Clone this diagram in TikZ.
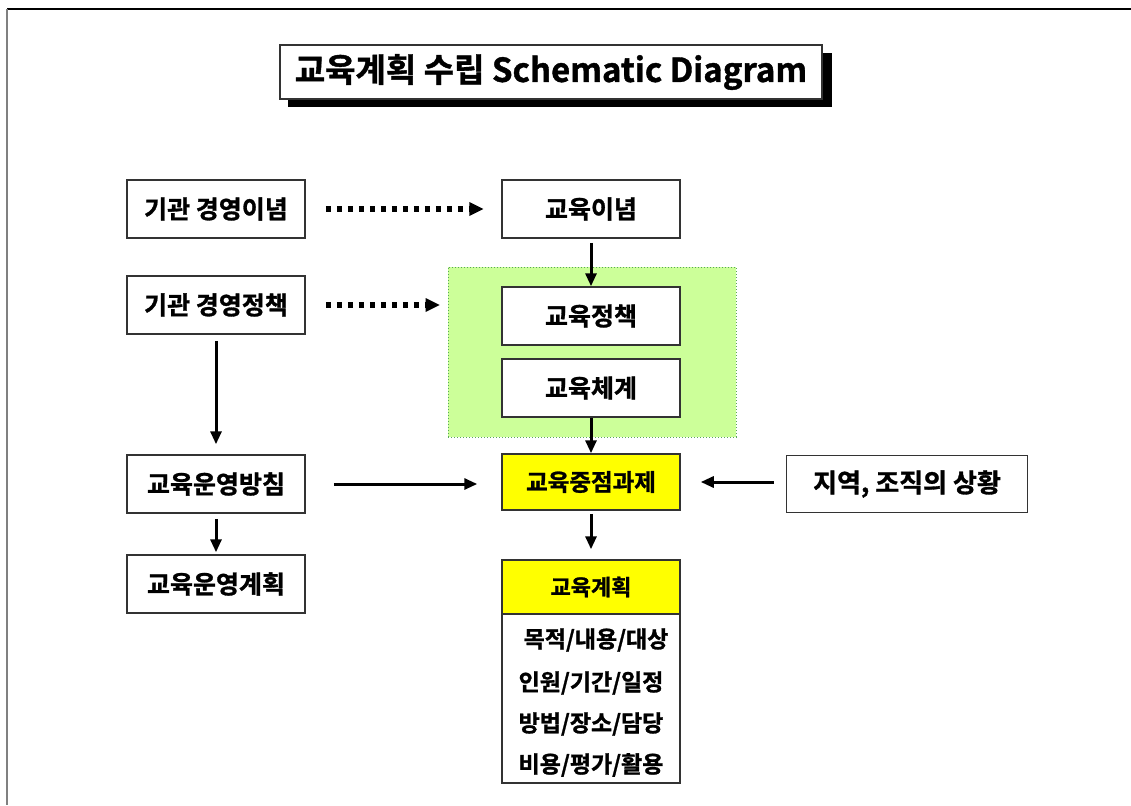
\documentclass[tikz,border=0pt]{standalone}
\usepackage{fontspec}
\setmainfont{Noto Sans CJK KR}[BoldFont={* Bold},BoldFeatures={FakeBold=1.2}]
\usetikzlibrary{arrows.meta}
\definecolor{grn}{HTML}{CCFF99}
\definecolor{ylw}{HTML}{FFFF00}
\definecolor{bdr}{HTML}{333333}
\begin{document}
\begin{tikzpicture}[x=1pt,y=-1pt,
  box/.style={draw=bdr,line width=1.5pt,fill=white,minimum width=178pt,minimum height=58pt,inner sep=0pt,font=\fontsize{25}{25}\selectfont\bfseries},
  arr/.style={line width=3pt,-{Triangle[length=13pt,width=11pt]}},
  dotarr/.style={line width=5.5pt,dash pattern=on 5pt off 6pt,-{Triangle[length=14pt,width=14pt,line width=0pt]}},
  lst/.style={font=\fontsize{23}{23}\selectfont\bfseries,inner sep=0pt}]
\useasboundingbox (0,0) rectangle (1131,805);
% frame
\draw[line width=1.5pt,black] (7,9) -- (1131,9);
\draw[line width=2pt,gray] (7,9) -- (7,805);
% title
\fill[black] (288,53) rectangle (832,107);
\node[draw=bdr,line width=1.5pt,fill=white,minimum width=542pt,minimum height=54pt,inner sep=0pt,
  font=\fontsize{33}{33}\selectfont\bfseries] (title) at (551,72) {교육계획 수립 Schematic Diagram};
% green region
\node[draw=gray!70!green,dotted,line width=1pt,fill=grn,minimum width=288pt,minimum height=170pt,inner sep=0pt] (grp) at (592,352) {};
% nodes
\node[box] (a) at (216,209) {기관 경영이념};
\node[box] (b) at (591,209) {교육이념};
\node[box] (c) at (216,305) {기관 경영정책};
\node[box] (d) at (591,316) {교육정책};
\node[box] (e) at (591,388) {교육체계};
\node[box] (f) at (216,484) {교육운영방침};
\node[box,fill=ylw,minimum height=56pt,font=\fontsize{23.5}{23.5}\selectfont\bfseries] (g) at (591,482) {교육중점과제};
\node[box,minimum width=241pt,minimum height=57pt,font=\fontsize{26}{26}\selectfont\bfseries] (h) at (907,484) {지역, 조직의 상황};
\node[box] (i) at (216,584) {교육운영계획};
% plan box
\node[draw=bdr,line width=1.5pt,fill=white,minimum width=178pt,minimum height=223pt,inner sep=0pt] (plan) at (591,671.5) {};
\node[draw=bdr,line width=1.5pt,fill=ylw,minimum width=178pt,minimum height=54pt,inner sep=0pt,anchor=north,
  font=\fontsize{22}{22}\selectfont\bfseries] (ph) at (plan.north) {교육계획};
\node[lst] (l1) at (596,640) {목적/내용/대상};
\node[lst] (l2) at (591,683) {인원/기간/일정};
\node[lst] (l3) at (591,724) {방법/장소/담당};
\node[lst] (l4) at (591,765) {비용/평가/활용};
% connectors
\draw[dotarr] ([xshift=20pt]a.east) -- ([xshift=-18pt]b.west);
\draw[dotarr] ([xshift=20pt]c.east) -- ([xshift=-8pt]grp.west |- c.east);
\draw[arr] ([yshift=-4pt]b.south) -- (d.north);
\draw[arr] (e.south) -- (g.north);
\draw[arr] ([yshift=-6pt]c.south) -- ([yshift=10pt]f.north);
\draw[arr] ([xshift=28pt]f.east) -- ([xshift=-24pt]g.west |- f.east);
\draw[arr] ([xshift=-12pt]h.west |- g.east) -- ([xshift=20pt]g.east);
\draw[arr] ([yshift=-5pt]f.south) -- ([yshift=2pt]i.north);
\draw[arr] ([yshift=-3pt]g.south) -- ([yshift=10pt]plan.north);
\end{tikzpicture}
\end{document}
